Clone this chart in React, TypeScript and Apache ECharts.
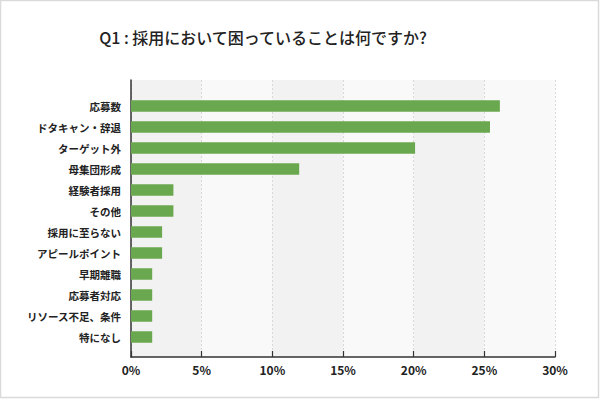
import React, { useEffect, useRef } from "react";
import * as echarts from "echarts";

const categories = [
  "応募数",
  "ドタキャン・辞退",
  "ターゲット外",
  "母集団形成",
  "経験者採用",
  "その他",
  "採用に至らない",
  "アピールポイント",
  "早期離職",
  "応募者対応",
  "リソース不足、条件",
  "特になし",
];
const values = [26.1, 25.4, 20.1, 11.9, 3.0, 3.0, 2.2, 2.2, 1.5, 1.5, 1.5, 1.5];
const titleText = "Q1 : 採用において困っていることは何ですか?";

const FONT = '"Noto Sans CJK JP", "Noto Sans", sans-serif';

export default function App() {
  const ref = useRef<HTMLDivElement>(null);
  useEffect(() => {
    if (!ref.current) return;
    const chart = echarts.init(ref.current, undefined, { renderer: "svg" });
    chart.setOption({
      animation: false,
      backgroundColor: "#ffffff",
      textStyle: { fontFamily: FONT },
      graphic: [
        {
          type: "rect",
          shape: { x: 0.5, y: 0.5, width: 598, height: 397 },
          style: { fill: "none", stroke: "#dadada", lineWidth: 1.5 },
          silent: true,
          z: -10,
        },
        {
          type: "text",
          x: 263,
          y: 37,
          style: {
            text: titleText,
            fontFamily: FONT,
            fontSize: 16,
            fontWeight: 500,
            fill: "#222222",
            textAlign: "center",
            textVerticalAlign: "middle",
          },
        },
      ],
      grid: [
        { left: 131, right: 45, top: 80, bottom: 42 },
        { left: 131, right: 45, top: 95.5, height: 252 },
      ],
      xAxis: [
        {
          gridIndex: 0,
          type: "value",
          min: 0,
          max: 30,
          interval: 5,
          axisLine: { show: true, lineStyle: { color: "#333333", width: 1.5 } },
          axisTick: { show: true, inside: true, length: 6, lineStyle: { color: "#333333", width: 1.2 } },
          axisLabel: {
            formatter: "{value}%",
            fontSize: 12,
            fontWeight: 600,
            color: "#222222",
            margin: 6,
            fontFamily: FONT,
          },
          splitLine: { show: true, lineStyle: { color: "#d8d8d8", type: [2, 2], width: 1 } },
          splitArea: { show: true, areaStyle: { color: ["#f2f2f2", "#f9f9f9"] } },
        },
        {
          gridIndex: 1,
          type: "value",
          min: 0,
          max: 30,
          show: false,
        },
      ],
      yAxis: [
        {
          gridIndex: 0,
          type: "value",
          min: 0,
          max: 1,
          axisLine: { show: true, lineStyle: { color: "#333333", width: 1.5 } },
          axisTick: { show: false },
          axisLabel: { show: false },
          splitLine: { show: false },
        },
        {
          gridIndex: 1,
          type: "category",
          inverse: true,
          data: categories,
          axisLine: { show: false },
          axisTick: { show: false },
          axisLabel: {
            fontSize: 10.5,
            fontWeight: "bold",
            color: "#222222",
            margin: 10,
            fontFamily: FONT,
          },
        },
      ],
      series: [
        {
          type: "bar",
          xAxisIndex: 1,
          yAxisIndex: 1,
          data: values,
          barWidth: 11.5,
          itemStyle: { color: "#6aa84f" },
        },
      ],
    });
    return () => chart.dispose();
  }, []);
  return (
    <div
      ref={ref}
      style={{ position: "fixed", left: 0, top: 0, width: 600, height: 399 }}
    />
  );
}
